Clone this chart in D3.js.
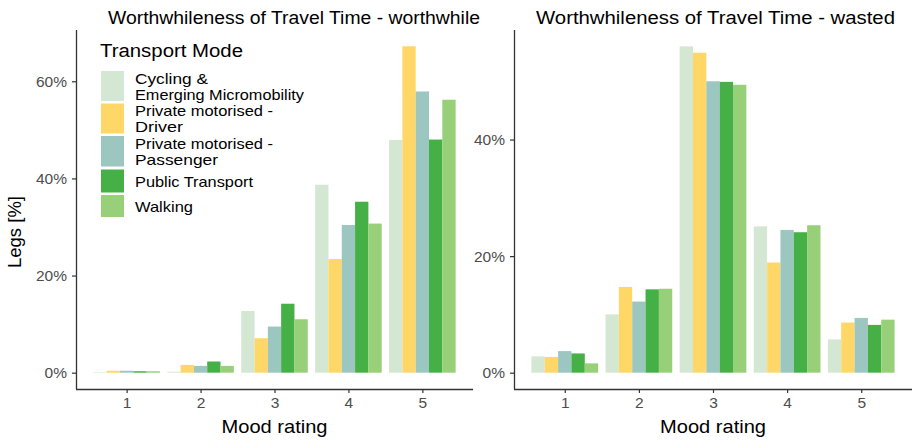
<!DOCTYPE html>
<html>
<head>
<meta charset="utf-8">
<script src="https://cdn.jsdelivr.net/npm/d3@7"></script>
<style>
  body { margin: 0; background: #fff; }
  svg { display: block; font-family: "Liberation Sans", Arial, sans-serif; }
</style>
</head>
<body>
<svg id="chart" width="912" height="440"></svg>
<script>
// Mood rating categories and transport modes
const ratings = ["1", "2", "3", "4", "5"];
const modes = [
  "Cycling & Emerging Micromobility",
  "Private motorised - Driver",
  "Private motorised - Passenger",
  "Public Transport",
  "Walking"
];
const legendLabels = [
  ["Cycling &", "Emerging Micromobility"],
  ["Private motorised -", "Driver"],
  ["Private motorised -", "Passenger"],
  ["Public Transport"],
  ["Walking"]
];
const modeColors = ["#d3e7d2", "#fed766", "#9cc6c0", "#44b045", "#98d07a"];

// Share of legs (%) per mood rating, one array per mode
const worthwhileCycling   = [0.1, 0.2, 12.7, 38.7, 47.9];
const worthwhileDriver    = [0.4, 1.6, 7.1, 23.4, 67.2];
const worthwhilePassenger = [0.4, 1.4, 9.5, 30.4, 57.9];
const worthwhilePublic    = [0.3, 2.3, 14.2, 35.2, 48.0];
const worthwhileWalking   = [0.3, 1.4, 11.0, 30.7, 56.2];

const wastedCycling   = [2.8, 10.0, 56.0, 25.1, 5.7];
const wastedDriver    = [2.7, 14.7, 54.9, 18.9, 8.6];
const wastedPassenger = [3.7, 12.2, 50.0, 24.5, 9.4];
const wastedPublic    = [3.3, 14.3, 49.9, 24.1, 8.2];
const wastedWalking   = [1.6, 14.4, 49.4, 25.3, 9.1];

const worthwhileTicks = [0, 20, 40, 60];
const wastedTicks = [0, 20, 40];

const svg = d3.select("#chart");
const axisColor = "#333333";
const tickTextColor = "#4d4d4d";

// text helper: fixed rendered width for the larger labels
function label(parent, x, y, str, size, width, anchor) {
  const t = parent.append("text")
    .attr("x", x).attr("y", y)
    .attr("font-size", size)
    .attr("fill", "#000")
    .attr("text-anchor", anchor || "start")
    .text(str);
  if (width) t.attr("textLength", width).attr("lengthAdjust", "spacingAndGlyphs");
  return t;
}

function drawPanel(opts) {
  const { left, right, top, bottom, series, ticks, title, titleX, titleW, xTitleW } = opts;
  const g = svg.append("g");

  const all = series.flat();
  const maxV = d3.max(all);
  const pad = maxV * 0.05;
  const y = d3.scaleLinear().domain([-pad, maxV + pad]).range([bottom, top]);

  const x = d3.scalePoint().domain(ratings).range([left, right]).padding(0.685);
  const step = x.step();
  const groupW = step * 0.9;
  const barW = groupW / modes.length;

  // bars
  modes.forEach((m, j) => {
    g.append("g")
      .selectAll("rect")
      .data(series[j])
      .join("rect")
      .attr("x", (d, i) => x(ratings[i]) - groupW / 2 + j * barW)
      .attr("width", barW)
      .attr("y", d => y(Math.max(d, 0)))
      .attr("height", d => Math.abs(y(0) - y(d)))
      .attr("fill", modeColors[j]);
  });

  // y axis
  const yAxis = g.append("g")
    .attr("transform", `translate(${left},0)`)
    .call(d3.axisLeft(y).tickValues(ticks).tickFormat(d => d + "%").tickSize(4).tickPadding(5).tickSizeOuter(0));
  yAxis.select(".domain").attr("stroke", axisColor).attr("stroke-width", 1.3)
    .attr("d", `M0.5,${top}V${bottom}`);
  yAxis.selectAll(".tick line").attr("stroke", axisColor).attr("stroke-width", 1.2);
  yAxis.selectAll(".tick text").attr("fill", tickTextColor).attr("font-size", 15.5);

  // x axis
  const xAxis = g.append("g")
    .attr("transform", `translate(0,${bottom})`)
    .call(d3.axisBottom(x).tickSize(4).tickPadding(4).tickSizeOuter(0));
  xAxis.select(".domain").attr("stroke", axisColor).attr("stroke-width", 1.3)
    .attr("d", `M${left},0.5H${right}`);
  xAxis.selectAll(".tick line").attr("stroke", axisColor).attr("stroke-width", 1.2);
  xAxis.selectAll(".tick text").attr("fill", tickTextColor).attr("font-size", 15.5);

  // x axis title
  label(g, (x(ratings[0]) + x(ratings[4])) / 2, 433, "Mood rating", 19, xTitleW, "middle");

  // panel title
  label(g, titleX, 24, title, 17.5, titleW, "middle");

  return { x, y };
}

drawPanel({
  left: 76, right: 473, top: 30, bottom: 389,
  series: [worthwhileCycling, worthwhileDriver, worthwhilePassenger, worthwhilePublic, worthwhileWalking],
  ticks: worthwhileTicks,
  title: "Worthwhileness of Travel Time - worthwhile",
  titleX: 294, titleW: 372, xTitleW: 106
});

drawPanel({
  left: 514, right: 912, top: 30, bottom: 389,
  series: [wastedCycling, wastedDriver, wastedPassenger, wastedPublic, wastedWalking],
  ticks: wastedTicks,
  title: "Worthwhileness of Travel Time - wasted",
  titleX: 715.5, titleW: 359, xTitleW: 106
});

// y axis title
svg.append("text")
  .attr("transform", "translate(21,232) rotate(-90)")
  .attr("text-anchor", "middle")
  .attr("font-size", 18.5)
  .attr("fill", "#000")
  .text("Legs [%]");

// legend
const legend = svg.append("g");
label(legend, 100, 57, "Transport Mode", 18, 143);

const legendWidths = [[73, 169], [138, 48], [138, 83], [118], [58]];
const keyTops = [71, 103.5, 136, 169.5, 195];
const keyHeights = [30, 30, 30.5, 23, 22];
legendLabels.forEach((lines, j) => {
  const row = legend.append("g");
  row.append("rect")
    .attr("x", 101).attr("y", keyTops[j])
    .attr("width", 23).attr("height", keyHeights[j])
    .attr("fill", modeColors[j]);
  const cy = keyTops[j] + keyHeights[j] / 2;
  const lh = 16;
  lines.forEach((ln, k) => {
    label(row, 135, cy + (k - (lines.length - 1) / 2) * lh + 5.5, ln, 15, legendWidths[j][k]);
  });
});
</script>
</body>
</html>
